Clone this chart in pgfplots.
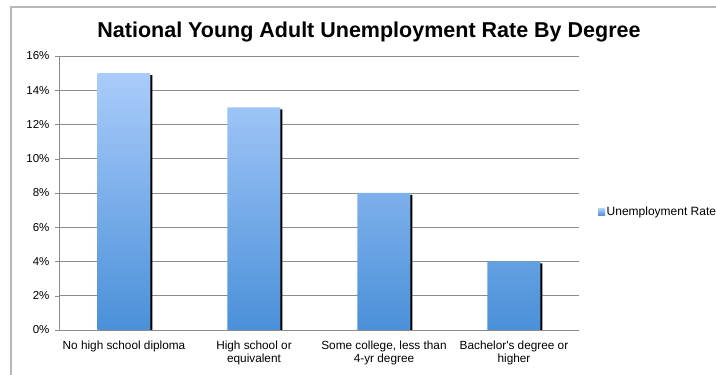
\documentclass[border=0pt]{standalone}
\usepackage{pgfplots}
\pgfplotsset{compat=1.18}
\usepackage{fontspec}
\setmainfont{Liberation Sans}
\definecolor{bartop}{HTML}{AACCFB}
\definecolor{barbot}{HTML}{4A90D9}
\definecolor{gridc}{HTML}{8C8C8C}
\begin{document}
\begin{tikzpicture}[x=1pt,y=1pt]
\useasboundingbox (0pt,0pt) rectangle (716pt,375pt);
\draw[color=black!28, line width=1.5pt] (11pt,-5pt) -- (11pt,368pt) -- (730pt,368pt);
\node[font=\bfseries\fontsize{21.5}{24}\selectfont, anchor=base, inner sep=0pt] at (369pt,337pt) {National Young Adult Unemployment Rate By Degree};
\begin{axis}[
  at={(59pt,45pt)}, anchor=south west,
  scale only axis, width=520pt, height=274pt,
  xmin=-0.5, xmax=3.5, ymin=0, ymax=16,
  ytick={0,2,...,16},
  yticklabel={\pgfmathprintnumber{\tick}\%},
  /pgf/number format/assume math mode=true,
  ymajorgrids, grid style={gridc, line width=0.8pt},
  xtick={0,1,2,3},
  xticklabels={No high school diploma, High school or\\equivalent, {Some college, less than\\4-yr degree}, Bachelor\textquotesingle s degree or\\higher},
  xticklabel style={align=center, font=\fontsize{11.8}{13.5}\selectfont, yshift=-3pt},
  yticklabel style={font=\fontsize{11.5}{13}\selectfont, xshift=-2pt},
  major x tick style={draw=none},
  extra x ticks={0.5,1.5,2.5},
  extra x tick labels={},
  extra x tick style={major tick length=4pt, tick style={gridc, draw=gridc}, tickpos=left, grid=none},
  tick align=outside, tickpos=left,
  major tick length=4pt,
  y tick style={gridc},
  axis x line*=bottom, axis y line*=left,
  axis line style={gridc, line width=0.8pt},
  ybar, bar width=53pt,
  legend style={at={(1.0365,0.43)}, anchor=west, draw=none, fill=none, font=\fontsize{12}{14}\selectfont, inner sep=0pt, nodes={inner xsep=1.5pt, inner ysep=0pt}},
  legend image code/.code={\shade[top color=bartop, bottom color=barbot] (0pt,-3.5pt) rectangle (7pt,3.5pt);},
]
\addplot[fill=black, draw=none, bar shift=2pt, yshift=-2pt, forget plot] coordinates {(0,15) (1,13) (2,8) (3,4)};
\addplot[draw=none, top color=bartop, bottom color=barbot, bar shift=0pt] coordinates {(0,15) (1,13) (2,8) (3,4)};
\legend{Unemployment Rate}
\end{axis}
\end{tikzpicture}
\end{document}
